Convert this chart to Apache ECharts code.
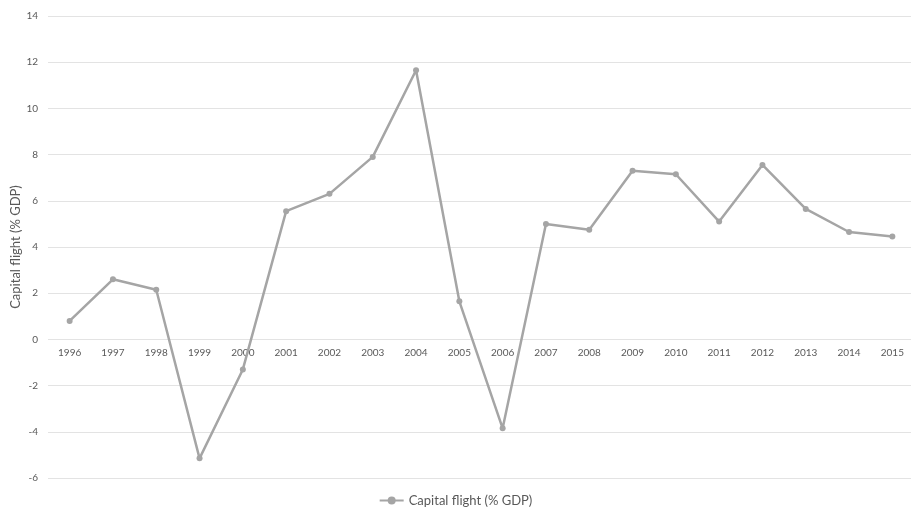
<!DOCTYPE html>
<html>
<head>
<meta charset="utf-8">
<script src="https://cdn.jsdelivr.net/npm/echarts@6/dist/echarts.min.js"></script>
<style>
  html, body { margin: 0; padding: 0; background: #fff; }
  #chart { width: 911px; height: 512px; }
</style>
</head>
<body>
<div id="chart"></div>
<script>
// years on the category axis
const years = ['1996', '1997', '1998', '1999', '2000', '2001', '2002', '2003', '2004', '2005',
  '2006', '2007', '2008', '2009', '2010', '2011', '2012', '2013', '2014', '2015']
// capital flight, % of GDP
const capitalFlight = [0.8, 2.6, 2.15, -5.15, -1.3, 5.55, 6.3, 7.9, 11.65, 1.65,
  -3.85, 5.0, 4.75, 7.3, 7.15, 5.1, 7.55, 5.65, 4.65, 4.45]
const seriesName = 'Capital flight (% GDP)'

const FONT = 'Lato, "Open Sans", sans-serif'
const TEXT = '#595959'
const LINE = '#a5a5a5'
const GRIDLINE = '#e3e3e3'

const chart = echarts.init(document.getElementById('chart'))

chart.setOption({
  animation: false,
  textStyle: { fontFamily: FONT },
  grid: { left: 48, right: -3, top: 16, bottom: 34, outerBoundsMode: 'none', containLabel: false },
  legend: {
    bottom: 0,
    left: 'center',
    itemWidth: 24,
    itemHeight: 10,
    itemGap: 4,
    textStyle: { color: TEXT, fontSize: 13, fontFamily: FONT },
    data: [seriesName]
  },
  xAxis: {
    type: 'category',
    data: years,
    // labels sit on the zero line, 3.5 gridlines above the bottom
    offset: -138.8,
    axisLine: { show: false, onZero: false },
    axisTick: { show: false },
    axisLabel: { color: TEXT, fontSize: 10, margin: 9, interval: 0 }
  },
  yAxis: {
    type: 'value',
    min: -6,
    max: 14,
    interval: 2,
    name: seriesName,
    nameLocation: 'middle',
    nameGap: 26,
    nameMoveOverlap: false,
    nameTextStyle: { color: TEXT, fontSize: 13 },
    axisLine: { show: false },
    axisTick: { show: false },
    axisLabel: { color: TEXT, fontSize: 10, margin: 10 },
    splitLine: { lineStyle: { color: GRIDLINE, width: 1 } }
  },
  series: [{
    name: seriesName,
    type: 'line',
    data: capitalFlight,
    symbol: 'circle',
    symbolSize: 6,
    lineStyle: { color: LINE, width: 2.5 },
    itemStyle: { color: LINE }
  }]
})
</script>
</body>
</html>
